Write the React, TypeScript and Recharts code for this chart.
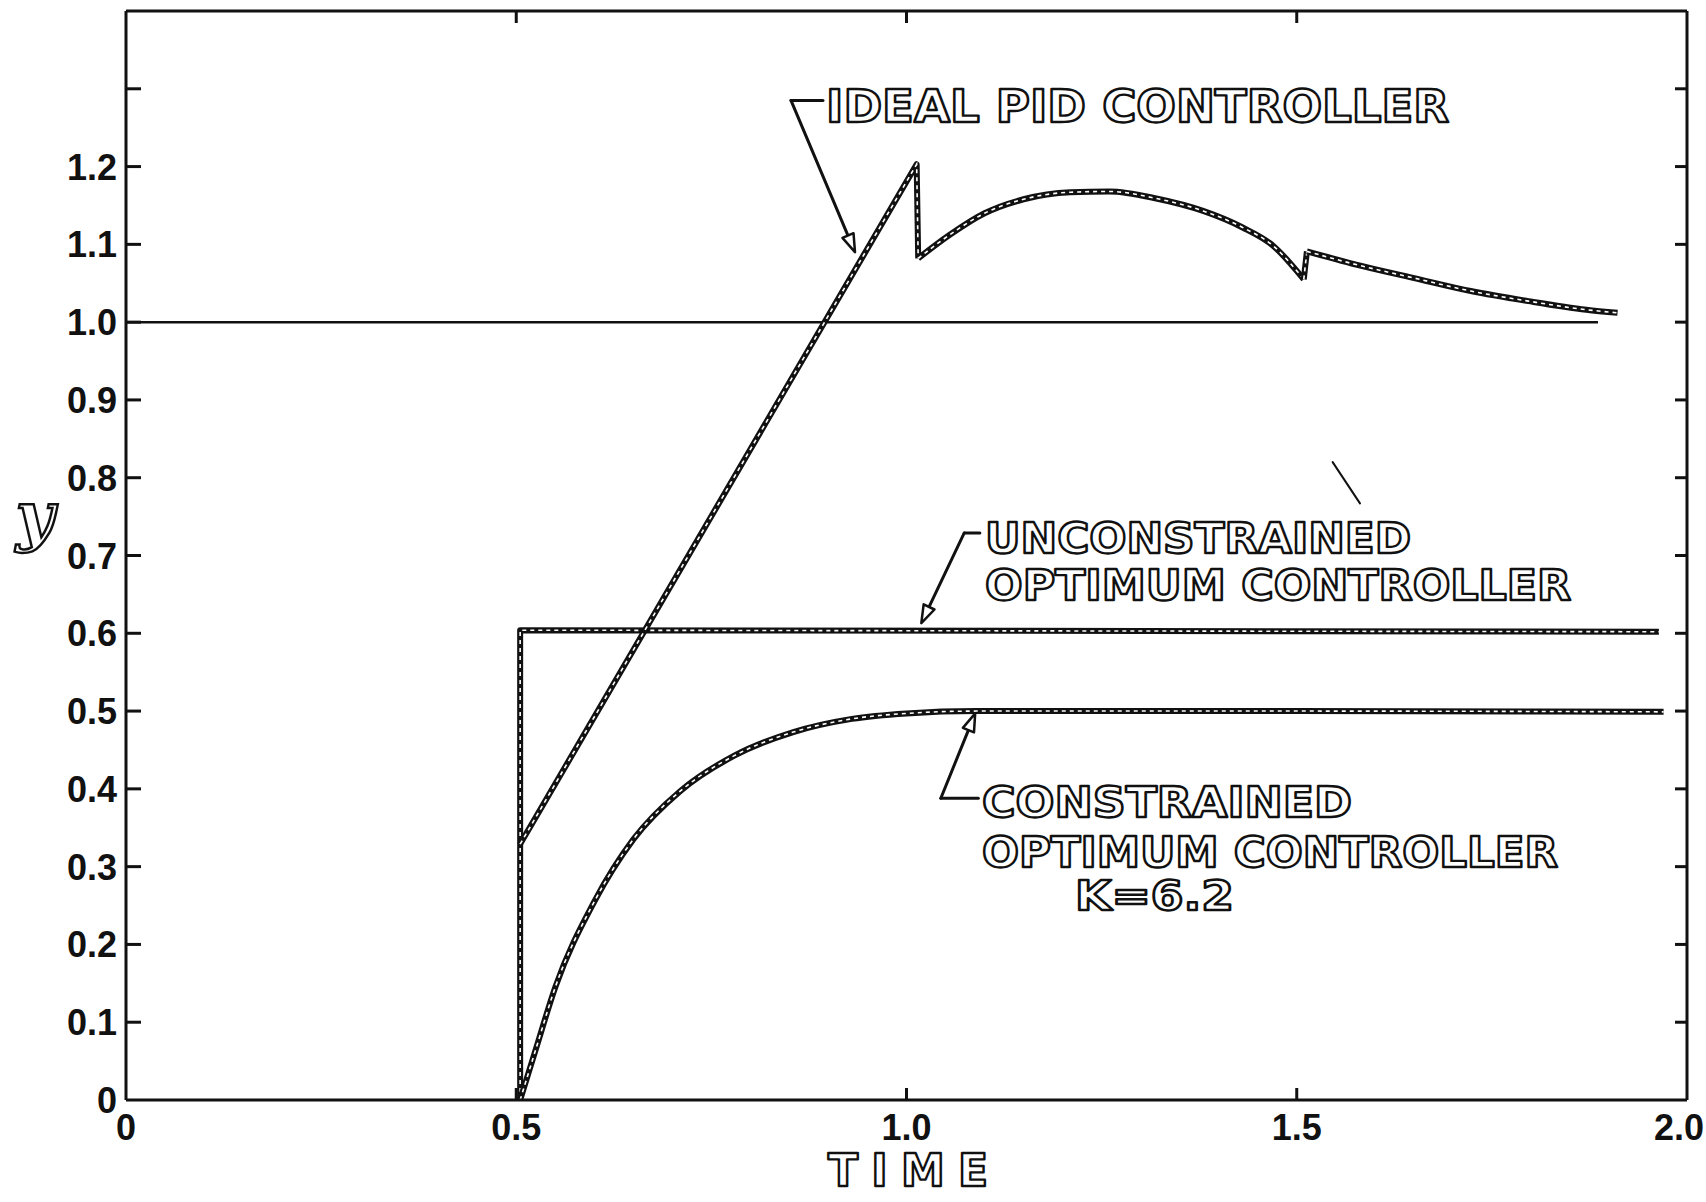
import React from 'react';
import { LineChart, Line, XAxis, YAxis, ReferenceLine, ReferenceDot } from 'recharts';

type Pt = { t: number; y: number };
const pts = (rows: number[][]): Pt[] => rows.map(([t, y]) => ({ t, y }));

// axis ticks
const timeTicks = [0, 0.5, 1.0, 1.5, 2.0];
const timeLabels = ['0', '0.5', '1.0', '1.5', '2.0'];
const yTicks = [0, 0.1, 0.2, 0.3, 0.4, 0.5, 0.6, 0.7, 0.8, 0.9, 1.0, 1.1, 1.2, 1.3];
const yLabels = ['0', '0.1', '0.2', '0.3', '0.4', '0.5', '0.6', '0.7', '0.8', '0.9', '1.0', '1.1', '1.2', ''];

// setpoint line y = 1.0
const setpoint = pts([[0, 1.0], [1.886, 1.0]]);

// ideal PID controller, split where it jumps
const pidRise = pts([[0.505, 0.329], [1.013, 1.203], [1.015, 1.082]]);
const pidHump = pts([
  [1.015, 1.082], [1.055, 1.112], [1.1, 1.14], [1.15, 1.158], [1.21, 1.167], [1.26, 1.168],
  [1.32, 1.159], [1.38, 1.143], [1.43, 1.122], [1.47, 1.098], [1.509, 1.055],
]);
const pidJump = pts([[1.509, 1.055], [1.513, 1.091]]);
const pidDecay = pts([
  [1.513, 1.091], [1.576, 1.074], [1.649, 1.057], [1.723, 1.04], [1.797, 1.027], [1.871, 1.016], [1.911, 1.012],
]);

// unconstrained optimum controller
const unconstrained = pts([[0.505, 0], [0.505, 0.604], [1.964, 0.602]]);

// constrained optimum controller, K = 6.2
const constrained = pts([
  [0.505, 0], [0.525, 0.065], [0.55, 0.145], [0.6, 0.255], [0.65, 0.335], [0.71, 0.397],
  [0.78, 0.443], [0.855, 0.473], [0.93, 0.49], [1.0, 0.497], [1.09, 0.5], [1.5, 0.5], [1.97, 0.499],
]);

const INK = '#111';
const labelFont = '"Liberation Sans", Arial, sans-serif';
const letterFont = '"DejaVu Sans", sans-serif';

const LeftTick = (props: any) => {
  const { x, y, payload } = props;
  const label = yLabels[yTicks.indexOf(payload.value)];
  return (
    <g>
      {payload.value > 0 && <line x1={x} y1={y} x2={x + 15} y2={y} stroke={INK} strokeWidth={3} />}
      {label ? (
        <text x={x - 9} y={y + 13} textAnchor="end" fontFamily={labelFont} fontWeight={700} fontSize={36} fill={INK}>
          {label}
        </text>
      ) : null}
    </g>
  );
};

const RightTick = (props: any) => {
  const { x, y, payload } = props;
  if (payload.value <= 0) return <g />;
  return <line x1={x} y1={y} x2={x - 12} y2={y} stroke={INK} strokeWidth={3} />;
};

const BottomTick = (props: any) => {
  const { x, y, payload } = props;
  const label = timeLabels[timeTicks.indexOf(payload.value)];
  const inner = payload.value > 0 && payload.value < 2;
  const last = payload.value >= 2;
  return (
    <g>
      {inner && <line x1={x} y1={y} x2={x} y2={y - 12} stroke={INK} strokeWidth={3} />}
      <text x={last ? x + 17 : x} y={y + 40} textAnchor={last ? 'end' : 'middle'} fontFamily={labelFont}
        fontWeight={700} fontSize={36} fill={INK}>
        {label}
      </text>
    </g>
  );
};

const TopTick = (props: any) => {
  const { x, y, payload } = props;
  if (payload.value <= 0 || payload.value >= 2) return <g />;
  return <line x1={x} y1={y} x2={x} y2={y + 12} stroke={INK} strokeWidth={3} />;
};

const plain = (p: any) => (
  <line x1={p.x1} y1={p.y1} x2={p.x2} y2={p.y2} stroke={INK} strokeWidth={3} strokeLinecap="round" />
);

const thin = (p: any) => (
  <line x1={p.x1} y1={p.y1} x2={p.x2} y2={p.y2} stroke={INK} strokeWidth={2} strokeLinecap="round" />
);

const arrow = (p: any) => {
  const { x1, y1, x2, y2 } = p;
  const len = Math.hypot(x2 - x1, y2 - y1) || 1;
  const ux = (x2 - x1) / len;
  const uy = (y2 - y1) / len;
  const bx = x2 - ux * 18;
  const by = y2 - uy * 18;
  const head = `${x2},${y2} ${bx - uy * 6},${by + ux * 6} ${bx + uy * 6},${by - ux * 6}`;
  return (
    <g>
      <line x1={x1} y1={y1} x2={bx} y2={by} stroke={INK} strokeWidth={3} strokeLinecap="round" />
      <polygon points={head} fill="#fff" stroke={INK} strokeWidth={2.5} strokeLinejoin="round" />
    </g>
  );
};

const hollowText = (text: string, width: number, size: number, anchor: 'start' | 'middle' = 'start', spread = false) =>
  (p: any) => (
    <text
      x={p.cx}
      y={p.cy}
      textAnchor={anchor}
      fontFamily={letterFont}
      fontWeight={700}
      fontSize={size}
      textLength={width}
      lengthAdjust={spread ? 'spacing' : 'spacingAndGlyphs'}
      fill="#fff"
      stroke={INK}
      strokeWidth={2.4}
      strokeLinejoin="round"
    >
      {text}
    </text>
  );

const yLetter = (p: any) => (
  <text x={p.cx} y={p.cy} textAnchor="middle" fontFamily='"DejaVu Serif", serif' fontStyle="italic" fontWeight={700}
    fontSize={66} fill="#fff" stroke={INK} strokeWidth={2.5}>
    y
  </text>
);

const curve = (key: string, data: Pt[], type: 'linear' | 'monotone') => [
  <Line key={key + '-ink'} data={data} dataKey="y" type={type} stroke={INK} strokeWidth={6} strokeLinejoin="round"
    dot={false} activeDot={false} isAnimationActive={false} />,
  <Line key={key + '-gap'} data={data} dataKey="y" type={type} stroke="#fff" strokeWidth={1.6} strokeDasharray="4 4"
    dot={false} activeDot={false} isAnimationActive={false} />,
];

export default function App() {
  return (
    <div style={{ position: 'absolute', left: 0, top: 0, width: 1706, height: 1202, background: '#fff' }}>
      <LineChart width={1706} height={1202} margin={{ top: 0, right: 0, bottom: 0, left: 0 }}>
        <XAxis xAxisId={0} dataKey="t" type="number" domain={[0, 2]} ticks={timeTicks} interval={0} height={102}
          tickSize={0} tickMargin={0} tickLine={false} tick={<BottomTick />} axisLine={{ stroke: INK, strokeWidth: 3 }}
          allowDataOverflow />
        <XAxis xAxisId="top" orientation="top" dataKey="t" type="number" domain={[0, 2]} ticks={timeTicks} interval={0}
          height={11} tickSize={0} tickMargin={0} tickLine={false} tick={<TopTick />}
          axisLine={{ stroke: INK, strokeWidth: 3 }} allowDataOverflow />
        <YAxis yAxisId={0} type="number" domain={[0, 1.4]} ticks={yTicks} interval={0} width={126} tickSize={0}
          tickMargin={0} tickLine={false} tick={<LeftTick />} axisLine={{ stroke: INK, strokeWidth: 3 }} allowDataOverflow />
        <YAxis yAxisId="r" orientation="right" type="number" domain={[0, 1.4]} ticks={yTicks} interval={0} width={19}
          tickSize={0} tickMargin={0} tickLine={false} tick={<RightTick />} axisLine={{ stroke: INK, strokeWidth: 3 }}
          allowDataOverflow />

        <Line data={setpoint} dataKey="y" type="linear" stroke={INK} strokeWidth={2.5} dot={false} activeDot={false}
          isAnimationActive={false} />
        {curve('unc', unconstrained, 'linear')}
        {curve('con', constrained, 'monotone')}
        {curve('pidRise', pidRise, 'linear')}
        {curve('pidHump', pidHump, 'monotone')}
        {curve('pidJump', pidJump, 'linear')}
        {curve('pidDecay', pidDecay, 'monotone')}

        {/* leader lines */}
        <ReferenceLine segment={[{ x: 0.852, y: 1.285 }, { x: 0.893, y: 1.285 }]} shape={plain} ifOverflow="visible" />
        <ReferenceLine segment={[{ x: 0.852, y: 1.285 }, { x: 0.934, y: 1.09 }]} shape={arrow} ifOverflow="visible" />
        <ReferenceLine segment={[{ x: 1.074, y: 0.729 }, { x: 1.094, y: 0.729 }]} shape={plain} ifOverflow="visible" />
        <ReferenceLine segment={[{ x: 1.074, y: 0.729 }, { x: 1.019, y: 0.613 }]} shape={arrow} ifOverflow="visible" />
        <ReferenceLine segment={[{ x: 1.044, y: 0.388 }, { x: 1.092, y: 0.388 }]} shape={plain} ifOverflow="visible" />
        <ReferenceLine segment={[{ x: 1.044, y: 0.388 }, { x: 1.088, y: 0.497 }]} shape={arrow} ifOverflow="visible" />
        <ReferenceLine segment={[{ x: 1.546, y: 0.82 }, { x: 1.581, y: 0.767 }]} shape={thin} ifOverflow="visible" />

        {/* annotations */}
        <ReferenceDot x={0.897} y={1.257} r={0} ifOverflow="visible" shape={hollowText('IDEAL PID CONTROLLER', 623, 44)} />
        <ReferenceDot x={1.1006} y={0.703} r={0} ifOverflow="visible" shape={hollowText('UNCONSTRAINED', 426, 42)} />
        <ReferenceDot x={1.1006} y={0.643} r={0} ifOverflow="visible" shape={hollowText('OPTIMUM CONTROLLER', 586, 42)} />
        <ReferenceDot x={1.0967} y={0.3638} r={0} ifOverflow="visible" shape={hollowText('CONSTRAINED', 370, 42)} />
        <ReferenceDot x={1.0967} y={0.2995} r={0} ifOverflow="visible" shape={hollowText('OPTIMUM CONTROLLER', 576, 42)} />
        <ReferenceDot x={1.2159} y={0.2442} r={0} ifOverflow="visible" shape={hollowText('K=6.2', 159, 40)} />
        <ReferenceDot x={1.002} y={-0.111} r={0} ifOverflow="visible" shape={hollowText('TIME', 160, 44, 'middle', true)} />
        <ReferenceDot x={-0.1166} y={0.722} r={0} ifOverflow="visible" shape={yLetter} />
      </LineChart>
    </div>
  );
}
